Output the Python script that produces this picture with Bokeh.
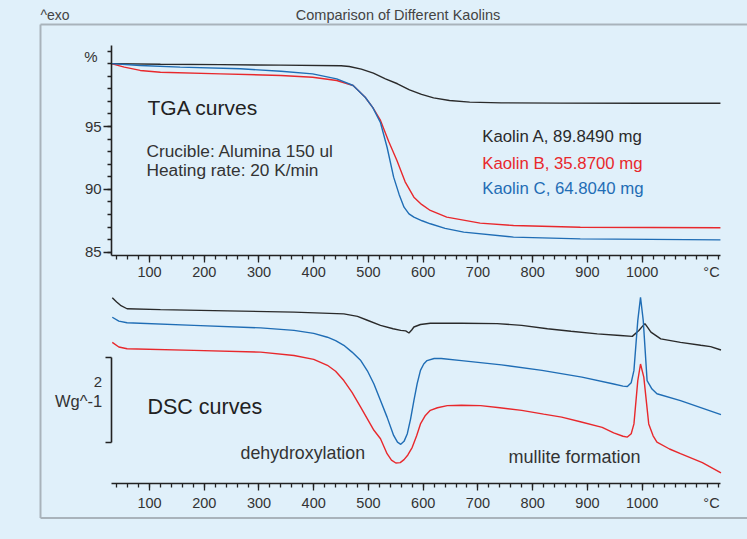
from bokeh.plotting import figure
from bokeh.models import Range1d, LinearAxis, FixedTicker, Label
from bokeh.embed import file_html
from bokeh.resources import INLINE

# ---------------- data ----------------
samples = ["Kaolin A, 89.8490 mg", "Kaolin B, 35.8700 mg", "Kaolin C, 64.8040 mg"]

# TGA mass (%) vs temperature (°C)
tga_A_T = [30, 120, 230, 340, 450, 465, 487, 509, 531, 553, 575, 597, 619, 648, 685, 743, 850, 1000, 1143]
tga_A_v = [100.0, 99.95, 99.92, 99.88, 99.83, 99.77, 99.56, 99.24, 98.79, 98.40, 97.92, 97.55, 97.28, 97.07, 96.94, 96.88, 96.86, 96.85, 96.85]

tga_B_T = [30, 54, 83, 120, 230, 340, 398, 442, 472, 494, 508, 522, 537, 552, 567, 583, 597, 613, 643, 704, 765, 887, 1143]
tga_B_v = [100.0, 99.72, 99.46, 99.32, 99.19, 99.06, 98.92, 98.66, 98.26, 97.33, 96.50, 95.48, 93.80, 92.30, 90.60, 89.38, 88.80, 88.32, 87.79, 87.31, 87.12, 86.99, 86.94]

tga_C_T = [30, 83, 156, 266, 340, 398, 442, 472, 494, 508, 522, 534, 546, 556, 565, 574, 583, 598, 613, 640, 674, 765, 887, 1143]
tga_C_v = [100.0, 99.85, 99.72, 99.59, 99.40, 99.19, 98.79, 98.26, 97.33, 96.50, 95.30, 93.35, 90.97, 89.60, 88.58, 88.05, 87.79, 87.50, 87.26, 86.90, 86.60, 86.20, 86.06, 85.98]

# DSC heat flow (W/g, curves stacked with offsets) vs temperature (°C)
dsc_A_T = [32, 40, 47, 59, 120, 242, 364, 455, 480, 498, 522, 545, 559, 568, 574, 579, 583, 595, 613, 670, 735, 780, 827, 870, 918, 960, 982, 994, 1000, 1005, 1010, 1016, 1034, 1070, 1107, 1125, 1144]
dsc_A_v = [4.40, 4.30, 4.22, 4.14, 4.12, 4.09, 4.06, 4.02, 3.96, 3.87, 3.75, 3.67, 3.63, 3.62, 3.57, 3.64, 3.71, 3.77, 3.80, 3.80, 3.79, 3.75, 3.67, 3.61, 3.55, 3.51, 3.49, 3.63, 3.72, 3.79, 3.70, 3.59, 3.43, 3.35, 3.28, 3.25, 3.17]

dsc_C_T = [32, 44, 59, 181, 303, 364, 400, 425, 440, 455, 470, 486, 498, 510, 522, 534, 546, 553, 559, 565, 571, 577, 583, 589, 595, 601, 607, 620, 633, 670, 743, 817, 890, 948, 965, 973, 980, 985, 992, 997, 1002, 1009, 1018, 1027, 1070, 1144]
dsc_C_v = [3.94, 3.85, 3.81, 3.75, 3.69, 3.63, 3.56, 3.47, 3.39, 3.28, 3.12, 2.92, 2.68, 2.37, 1.98, 1.59, 1.16, 1.00, 0.95, 1.02, 1.20, 1.55, 1.98, 2.38, 2.69, 2.84, 2.92, 2.97, 2.97, 2.92, 2.82, 2.69, 2.53, 2.37, 2.32, 2.31, 2.40, 2.69, 3.86, 4.41, 3.86, 2.45, 2.25, 2.14, 1.98, 1.65]

dsc_B_T = [32, 44, 59, 181, 303, 364, 400, 425, 440, 455, 470, 486, 498, 510, 522, 534, 542, 550, 558, 565, 572, 580, 588, 595, 604, 613, 626, 644, 670, 705, 740, 780, 820, 853, 887, 927, 948, 965, 973, 980, 985, 992, 997, 1003, 1012, 1020, 1027, 1050, 1070, 1110, 1144]
dsc_B_v = [3.35, 3.24, 3.20, 3.16, 3.12, 3.04, 2.95, 2.81, 2.67, 2.45, 2.17, 1.82, 1.55, 1.28, 1.08, 0.73, 0.58, 0.51, 0.52, 0.59, 0.70, 0.88, 1.15, 1.43, 1.63, 1.75, 1.81, 1.86, 1.87, 1.86, 1.81, 1.75, 1.66, 1.59, 1.48, 1.35, 1.22, 1.14, 1.12, 1.20, 1.43, 2.45, 2.84, 2.53, 1.43, 1.15, 1.00, 0.84, 0.73, 0.52, 0.28]

x_major_ticks = [100, 200, 300, 400, 500, 600, 700, 800, 900, 1000]
x_minor_ticks = list(range(40, 1141, 20))
tga_major_ticks = [85, 90, 95]
tga_minor_ticks = list(range(85, 102))
scale_bar = [1.0, 3.0]  # 2 W/g

# ---------------- layout / styles ----------------
BG = "#e0f0fa"
TXT = "#333333"
COL_A, COL_B, COL_C = "#2a2a2a", "#e8282c", "#1f6db5"
FONT = "Liberation Sans"

# image-pixel calibration of the reference
X100, PXC = 149.0, 0.5474        # x pixel of 100 °C, px per °C
Y100, PXP = 63.15, 12.57         # y pixel of 100 %, px per %
Y0D, PXW = 484.2, 42.5           # y pixel of DSC 0, px per W/g
W, H = 747, 539
OX, OY = 0, 0


def tx(px):
    return 100 + (px - X100) / PXC


def ty(py):
    return 100 - (py - Y100) / PXP


def dy(py):
    return (Y0D - py) / PXW


p = figure(width=W, height=H, output_backend="svg", toolbar_location=None,
           x_axis_type=None, y_axis_type=None, min_border=0,
           x_range=Range1d(tx(OX), tx(OX + W)),
           y_range=Range1d(ty(OY + H), ty(OY)))
p.extra_y_ranges = {"dsc": Range1d(dy(OY + H), dy(OY))}
p.background_fill_color = BG
p.border_fill_color = BG
p.outline_line_color = None

try:
    from bokeh.models import GlobalInlineStyleSheet
    p.stylesheets = [GlobalInlineStyleSheet(css="body{background-color:%s;}" % BG)]
except Exception:
    pass

# frame lines
FR = "#a9b3bb"
p.line([tx(40), tx(760)], [ty(24), ty(24)], line_color=FR, line_width=2)
p.line([tx(40), tx(40)], [ty(24), ty(517.5)], line_color=FR, line_width=2)
p.line([tx(40), tx(760)], [ty(517.5), ty(517.5)], line_color=FR, line_width=2)


def style_axis(ax, size="14.5px"):
    ax.axis_line_color = "#222222"
    ax.axis_line_width = 1.6
    ax.major_tick_line_color = "#222222"
    ax.minor_tick_line_color = "#222222"
    ax.major_tick_line_width = 1.3
    ax.minor_tick_line_width = 1.3
    ax.major_tick_in = 0
    ax.minor_tick_in = 0
    ax.major_tick_out = 7
    ax.minor_tick_out = 4
    ax.major_label_text_font = FONT
    ax.major_label_text_font_size = size
    ax.major_label_text_color = TXT


# TGA axes
x_tga = LinearAxis(fixed_location=ty(255), bounds=(31, 1144),
                   ticker=FixedTicker(ticks=x_major_ticks, minor_ticks=x_minor_ticks))
style_axis(x_tga)
x_tga.major_label_standoff = 4
p.add_layout(x_tga, "below")

y_tga = LinearAxis(fixed_location=31, bounds=(ty(255), ty(45)),
                   ticker=FixedTicker(ticks=tga_major_ticks, minor_ticks=tga_minor_ticks))
style_axis(y_tga, "15px")
y_tga.major_tick_out = 8
y_tga.major_label_standoff = 2
p.add_layout(y_tga, "left")

# DSC axes
x_dsc = LinearAxis(y_range_name="dsc", fixed_location=dy(483.3), bounds=(31, 1144),
                   ticker=FixedTicker(ticks=x_major_ticks, minor_ticks=x_minor_ticks))
style_axis(x_dsc)
x_dsc.major_label_standoff = 7
p.add_layout(x_dsc, "below")

bar = LinearAxis(y_range_name="dsc", fixed_location=tx(110.5), bounds=tuple(scale_bar),
                 ticker=FixedTicker(ticks=scale_bar, minor_ticks=[]))
style_axis(bar)
bar.major_tick_out = 6
bar.major_label_text_color = None
p.add_layout(bar, "left")

# curves
p.line(tga_A_T, tga_A_v, line_color=COL_A, line_width=1.4)
p.line(tga_B_T, tga_B_v, line_color=COL_B, line_width=1.4)
p.line(tga_C_T, tga_C_v, line_color=COL_C, line_width=1.4)
p.line(dsc_A_T, dsc_A_v, line_color=COL_A, line_width=1.4, y_range_name="dsc")
p.line(dsc_C_T, dsc_C_v, line_color=COL_C, line_width=1.4, y_range_name="dsc")
p.line(dsc_B_T, dsc_B_v, line_color=COL_B, line_width=1.4, y_range_name="dsc")


def label(text, x, y, size, color=TXT, align="left", rng="default"):
    p.add_layout(Label(x=x, y=y, text=text, text_font=FONT, text_font_size=size,
                       text_color=color, text_align=align, text_baseline="middle",
                       y_range_name=rng))


label("^exo", tx(40), ty(14), "14px", color="#444444")
label("Comparison of Different Kaolins", tx(397.5), ty(14), "14.5px", color="#444444", align="center")
label("TGA curves", tx(147), ty(107), "21px", color="#222222")
label("Crucible: Alumina 150 ul", tx(146), ty(150.7), "17.3px")
label("Heating rate: 20 K/min", tx(146), ty(169.3), "17.3px")
label(samples[0], tx(481.7), ty(136), "16.8px", color=COL_A)
label(samples[1], tx(481.7), ty(162.7), "16.8px", color=COL_B)
label(samples[2], tx(481.7), ty(188.3), "16.8px", color=COL_C)
label("%", tx(97), ty(56), "15px", align="right")
label("°C", tx(711), ty(271), "14.5px", align="center")
label("°C", tx(711), dy(502), "14.5px", align="center", rng="dsc")
label("DSC curves", tx(147), dy(406), "21.5px", color="#222222", rng="dsc")
label("2", tx(101.7), dy(381.7), "15px", align="right", rng="dsc")
label("Wg^-1", tx(101.7), dy(400.7), "16.5px", align="right", rng="dsc")
label("dehydroxylation", tx(240), dy(452.7), "17.8px", rng="dsc")
label("mullite formation", tx(508), dy(456.7), "18px", rng="dsc")

open("out.html", "w").write(file_html(p, INLINE))
